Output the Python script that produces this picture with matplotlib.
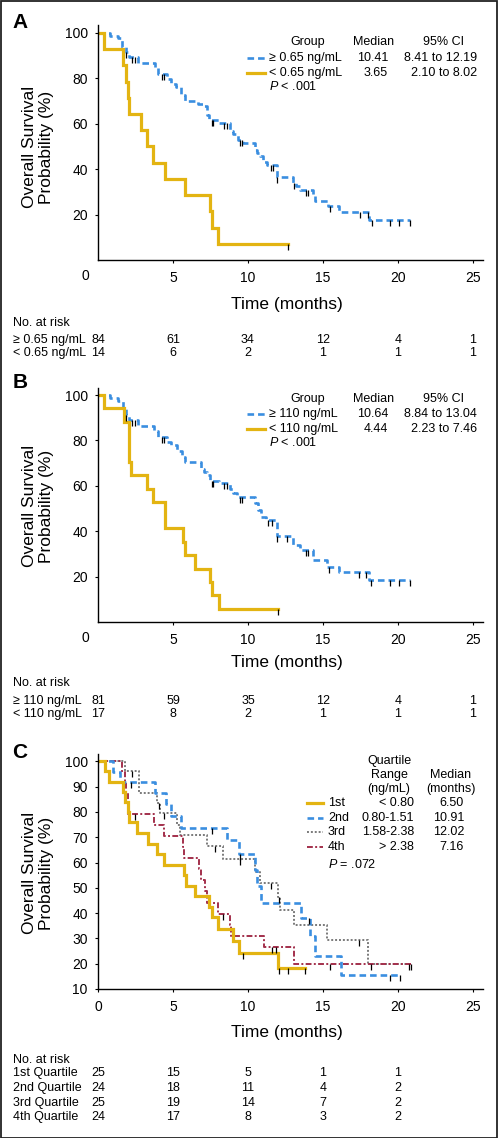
import numpy as np
import matplotlib
matplotlib.use('Agg')
import matplotlib.pyplot as plt
from matplotlib.path import Path
from matplotlib.lines import Line2D
from matplotlib.patches import Rectangle
import matplotlib.transforms as mtransforms

plt.rcParams['font.family'] = ['Liberation Sans', 'DejaVu Sans']
plt.rcParams['mathtext.fontset'] = 'custom'
plt.rcParams['mathtext.it'] = 'Liberation Sans:italic'
plt.rcParams['mathtext.rm'] = 'Liberation Sans'

# ---------------- data ----------------
# Panel A
a_hi_t = [0.8, 1.35, 1.62, 1.87, 2.05, 2.7, 3.8, 4.0, 4.6, 4.9, 5.2, 5.55, 5.8, 6.7, 7.0, 7.25, 7.4,
          8.1, 8.8, 9.0, 9.35, 9.7, 10.45, 10.6, 10.8, 11.0, 11.25, 11.96, 13.0, 13.2, 13.5, 14.35,
          14.5, 15.36, 16.1, 18.1]
a_hi_s = [98.8, 97.6, 94.0, 91.7, 89.3, 86.9, 84.5, 82.1, 79.8, 77.4, 76.0, 72.6, 70.2, 68.9, 67.7, 64.0,
          61.6, 60.4, 57.0, 55.5, 53.0, 51.5, 48.6, 47.0, 45.7, 43.2, 42.0, 36.6, 34.0, 32.4, 31.0, 28.5,
          26.0, 23.7, 21.1, 17.6]
a_hi_c = [1.87, 2.3, 2.45, 4.3, 4.4, 7.6, 7.7, 8.4, 8.6, 9.5, 9.6, 11.55, 11.7, 11.96, 13.07, 13.85,
          14.0, 15.45, 17.5, 18.0, 18.25, 19.45, 20.1, 20.8]
a_lo_t = [0.42, 1.69, 1.84, 2.02, 2.07, 2.87, 3.27, 3.65, 4.47, 5.8, 7.47, 7.62, 8.02]
a_lo_s = [92.9, 85.7, 78.6, 71.4, 64.3, 57.1, 50.0, 42.9, 35.7, 28.6, 21.4, 14.3, 7.1]
a_lo_c = [12.7]

# Panel B
b_hi_t = [0.8, 1.35, 1.64, 1.87, 2.05, 2.7, 3.76, 4.0, 4.6, 4.9, 5.24, 5.58, 5.8, 6.9, 7.1, 7.3, 7.45,
          8.1, 8.8, 9.0, 9.3, 10.47, 10.68, 10.9, 11.2, 11.95, 12.98, 13.47, 14.35, 15.3, 16.1, 18.1]
b_hi_s = [98.8, 97.5, 93.8, 91.3, 89.0, 86.4, 84.0, 81.5, 79.1, 77.8, 75.3, 72.5, 70.4, 67.6, 66.2, 64.6,
          62.3, 61.2, 58.5, 57.0, 55.0, 52.3, 49.4, 46.4, 45.0, 37.7, 34.0, 31.9, 27.2, 24.3, 22.0, 18.4]
b_hi_c = [1.87, 2.3, 2.45, 4.25, 4.4, 7.6, 7.7, 8.4, 8.6, 9.5, 9.6, 11.36, 11.58, 11.95, 12.6, 13.85,
          14.0, 15.4, 17.4, 17.9, 18.2, 19.45, 20.1, 20.8]
b_lo_t = [0.42, 1.73, 2.05, 2.2, 3.24, 3.66, 4.46, 5.66, 5.78, 6.45, 7.47, 7.6, 8.07]
b_lo_s = [94.1, 88.2, 70.6, 64.7, 58.8, 52.9, 41.2, 35.3, 29.4, 23.5, 17.6, 11.8, 5.9]
b_lo_c = [12.02]

# Panel C
q1_t = [0.45, 0.73, 1.69, 1.8, 2.0, 2.07, 2.62, 3.31, 3.95, 4.4, 5.76, 5.84, 6.47, 7.42, 7.58, 8.02,
        9.02, 9.42, 12.02]
q1_s = [96, 92, 88, 84, 80, 76, 71.5, 67.5, 63.3, 59, 55, 50.8, 46.6, 42.6, 38.3, 33.8, 29, 24.2, 18.2]
q1_c = [9.65, 12.1, 12.7, 13.8]
q2_t = [1.02, 1.5, 3.8, 4.55, 4.85, 5.55, 8.6, 9.4, 10.45, 10.58, 10.9, 13.55, 14.13, 14.47, 16.2]
q2_s = [95.8, 91.7, 87.4, 83.0, 78.5, 73.7, 68.8, 63.2, 57.0, 50.6, 44.0, 38.1, 30.8, 23.0, 15.7]
q2_c = [2.2, 7.62, 9.5, 14.07, 19.47, 20.15]
q3_t = [1.8, 2.76, 3.96, 4.13, 5.24, 5.47, 7.24, 8.36, 10.47, 10.8, 12.0, 12.13, 13.1, 15.24, 18.02]
q3_s = [96, 87.6, 83.5, 79.6, 75.0, 70.7, 66.4, 61.5, 56.2, 51.8, 46.2, 41.2, 35.2, 29.2, 19.8]
q3_c = [2.24, 4.1, 4.4, 7.8, 9.47, 11.55, 12.05, 17.4, 20.75]
q4_t = [1.58, 1.8, 1.9, 1.98, 3.76, 4.42, 5.7, 5.76, 6.76, 6.9, 7.13, 7.24, 8.02, 8.8, 8.85, 11.07, 13.05]
q4_s = [95.8, 91.7, 87.5, 79.3, 74.9, 70.4, 66.2, 61.8, 57.5, 53.2, 48.6, 44.0, 39.8, 35.3, 30.8, 26.7, 20.0]
q4_c = [2.47, 8.31, 11.6, 11.85, 15.45, 18.2, 20.85]

# numbers at risk
risk_times_ab = [0, 5, 10, 15, 20, 25]
risk_a_hi = [84, 61, 34, 12, 4, 1]
risk_a_lo = [14, 6, 2, 1, 1, 1]
risk_b_hi = [81, 59, 35, 12, 4, 1]
risk_b_lo = [17, 8, 2, 1, 1, 1]
risk_times_c = [0, 5, 10, 15, 20]
risk_q1 = [25, 15, 5, 1, 1]
risk_q2 = [24, 18, 11, 4, 2]
risk_q3 = [25, 19, 14, 7, 2]
risk_q4 = [24, 17, 8, 3, 2]

a_labels = ['≥ 0.65 ng/mL', '< 0.65 ng/mL']
a_medians = ['10.41', '3.65']
a_ci = ['8.41 to 12.19', '2.10 to 8.02']
b_labels = ['≥ 110 ng/mL', '< 110 ng/mL']
b_medians = ['10.64', '4.44']
b_ci = ['8.84 to 13.04', '2.23 to 7.46']
c_labels = ['1st', '2nd', '3rd', '4th']
c_ranges = ['< 0.80', '0.80-1.51', '1.58-2.38', '> 2.38']
c_medians = ['6.50', '10.91', '12.02', '7.16']
c_risk_labels = ['1st Quartile', '2nd Quartile', '3rd Quartile', '4th Quartile']

# ---------------- styles ----------------
YEL = '#E3B412'
BLU = '#3A8EE0'
GRY = '#7a7a7a'
RED = '#A3304C'
st_yel = dict(color=YEL, lw=2.3, solid_joinstyle='miter')
st_blu = dict(color=BLU, lw=1.9, dashes=(2.5, 1.5))
st_gry = dict(color=GRY, lw=1.4, dashes=(1.0, 1.0))
st_red = dict(color=RED, lw=1.4, dashes=(3.0, 1.2, 1.0, 1.2))

LEG_FS = 9
RISK_FS = 9

W, H, DPI = 498, 1138, 100
fig = plt.figure(figsize=(W / DPI, H / DPI), dpi=DPI)


def fx(x):
    return x / W


def fy(y):
    return 1 - y / H


def ftext(x, y, s, **kw):
    kw.setdefault('va', 'center')
    kw.setdefault('fontsize', LEG_FS)
    fig.text(fx(x), fy(y), s, **kw)


def fline(x0, x1, y, style):
    fig.add_artist(Line2D([fx(x0), fx(x1)], [fy(y), fy(y)], transform=fig.transFigure, **style))


cens_marker = Path([(0, 0), (0, -1)], [Path.MOVETO, Path.LINETO])


def km(ax, t, s, c, style):
    end = max(c) if len(c) else t[-1]
    tt = np.concatenate([[0], t, [end]])
    ss = np.concatenate([[100], s, [s[-1]]])
    ax.step(tt, ss, where='post', **style)
    ct = np.array(c)
    idx = np.searchsorted(tt[:-1], ct, side='right') - 1
    cs = ss[idx]
    ax.plot(ct, cs, ls='none', marker=cens_marker, markersize=8, mec='black', mew=0.9, zorder=5)


def make_ax(top, bottom, ylim, yticks, zero_label):
    ax = fig.add_axes([fx(98), fy(bottom), (483 - 98) / W, (bottom - top) / H])
    ax.set_xlim(0, 25.67)
    ax.set_ylim(*ylim)
    for sp in ['top', 'right']:
        ax.spines[sp].set_visible(False)
    for sp in ['left', 'bottom']:
        ax.spines[sp].set_linewidth(1.0)
    ax.set_yticks(yticks)
    if zero_label:
        ax.set_xticks([5, 10, 15, 20, 25])
    else:
        ax.set_xticks([0, 5, 10, 15, 20, 25])
    ax.tick_params(axis='both', direction='out', length=2, width=0.8, labelsize=10)
    ax.tick_params(axis='x', pad=6)
    ax.tick_params(axis='y', pad=5.3)
    if zero_label:
        ftext(85, bottom + 16, '0', ha='center', fontsize=10)
    return ax


def risk_table(ax, y_head, ys, labels, values, times):
    tr = mtransforms.blended_transform_factory(ax.transData, fig.transFigure)
    ftext(13, y_head, 'No. at risk', ha='left', fontsize=RISK_FS)
    for yy, lab, vals in zip(ys, labels, values):
        ftext(13, yy, lab, ha='left', fontsize=RISK_FS)
        for t, v in zip(times, vals):
            ax.text(t, fy(yy), str(v), transform=tr, ha='center', va='center', fontsize=RISK_FS)


# ---------------- Panel A ----------------
axA = make_ax(25, 260, (0, 103.5), [20, 40, 60, 80, 100], True)
km(axA, a_hi_t, a_hi_s, a_hi_c, st_blu)
km(axA, a_lo_t, a_lo_s, a_lo_c, st_yel)
ftext(20, 22, 'A', ha='center', fontsize=15, fontweight='bold')
ftext(38, 147, 'Overall Survival\nProbability (%)', ha='center', rotation=90, fontsize=12.5,
      multialignment='center')
ftext(287, 305, 'Time (months)', ha='center', fontsize=12.5)
ftext(308, 42, 'Group', ha='center')
ftext(374, 42, 'Median', ha='center')
ftext(443, 42, '95% CI', ha='center')
for yy, st, lab, med, ci in zip([58, 73], [st_blu, st_yel], a_labels, a_medians, a_ci):
    fline(247, 265, yy, st)
    ftext(269, yy, lab, ha='left')
    ftext(388, yy, med, ha='right')
    ftext(477, yy, ci, ha='right')
ftext(269, 87, '$P$ < .001', ha='left')
risk_table(axA, 323, [340, 353], a_labels, [risk_a_hi, risk_a_lo], risk_times_ab)

# ---------------- Panel B ----------------
axB = make_ax(388, 622, (0, 103.1), [20, 40, 60, 80, 100], True)
km(axB, b_hi_t, b_hi_s, b_hi_c, st_blu)
km(axB, b_lo_t, b_lo_s, b_lo_c, st_yel)
ftext(20, 383, 'B', ha='center', fontsize=15, fontweight='bold')
ftext(38, 506, 'Overall Survival\nProbability (%)', ha='center', rotation=90, fontsize=12.5,
      multialignment='center')
ftext(287, 663, 'Time (months)', ha='center', fontsize=12.5)
ftext(308, 399, 'Group', ha='center')
ftext(374, 399, 'Median', ha='center')
ftext(443, 399, '95% CI', ha='center')
for yy, st, lab, med, ci in zip([414, 429], [st_blu, st_yel], b_labels, b_medians, b_ci):
    fline(247, 265, yy, st)
    ftext(269, yy, lab, ha='left')
    ftext(388, yy, med, ha='right')
    ftext(477, yy, ci, ha='right')
ftext(269, 443, '$P$ < .001', ha='left')
risk_table(axB, 683, [701, 714], b_labels, [risk_b_hi, risk_b_lo], risk_times_ab)

# ---------------- Panel C ----------------
axC = make_ax(754, 989, (10, 102.9), list(range(10, 101, 10)), False)
km(axC, q3_t, q3_s, q3_c, st_gry)
km(axC, q4_t, q4_s, q4_c, st_red)
km(axC, q2_t, q2_s, q2_c, st_blu)
km(axC, q1_t, q1_s, q1_c, st_yel)
ftext(20, 752, 'C', ha='center', fontsize=15, fontweight='bold')
ftext(38, 873, 'Overall Survival\nProbability (%)', ha='center', rotation=90, fontsize=12.5,
      multialignment='center')
ftext(287, 1033, 'Time (months)', ha='center', fontsize=12.5)
ftext(389, 761, 'Quartile', ha='center')
ftext(389, 775, 'Range', ha='center')
ftext(389, 789, '(ng/mL)', ha='center')
ftext(451, 775, 'Median', ha='center')
ftext(451, 789, '(months)', ha='center')
for yy, st, lab, rng, med in zip([803, 818, 832, 847], [st_yel, st_blu, st_gry, st_red],
                                  c_labels, c_ranges, c_medians):
    fline(307, 323, yy, st)
    ftext(328, yy, lab, ha='left')
    ftext(414, yy, rng, ha='right')
    ftext(464, yy, med, ha='right')
ftext(328, 864, '$P$ = .072', ha='left')
risk_table(axC, 1060, [1073, 1088, 1103, 1117], c_risk_labels,
           [risk_q1, risk_q2, risk_q3, risk_q4], risk_times_c)

# frame around the figure
fig.add_artist(Rectangle((0.5 / W, 0.5 / H), 1 - 1.5 / W, 1 - 1.5 / H, transform=fig.transFigure,
                         fill=False, edgecolor='#222222', lw=1.3))

fig.savefig('out.png', dpi=DPI)
